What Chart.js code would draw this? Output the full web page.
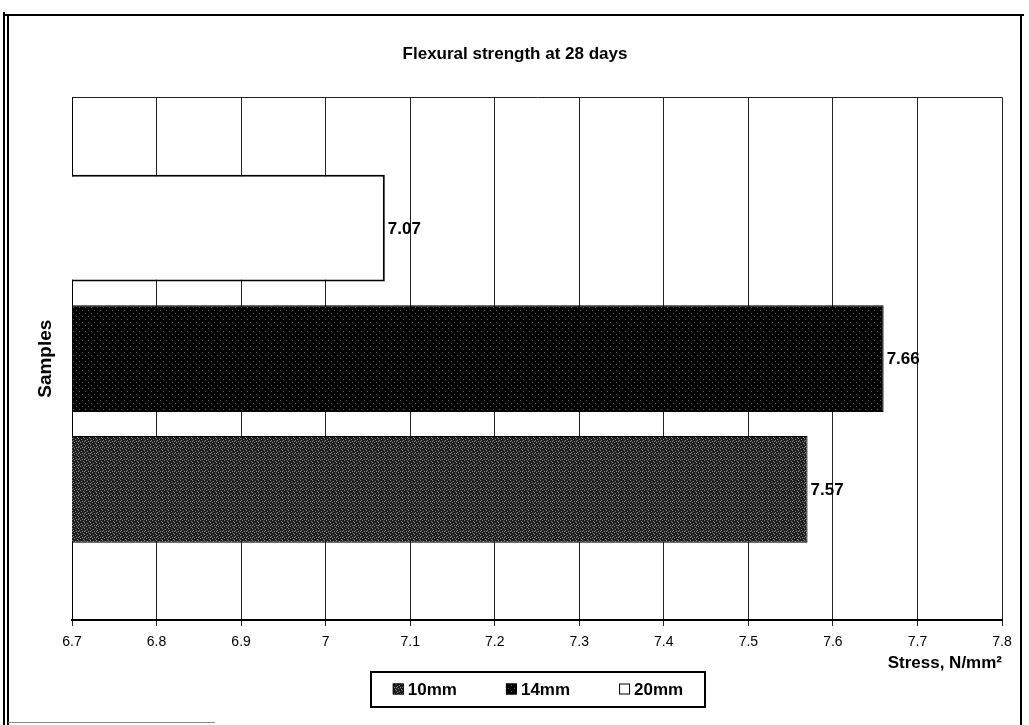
<!DOCTYPE html>
<html>
<head>
<meta charset="utf-8">
<script src="https://cdn.jsdelivr.net/npm/chart.js@4.4.1/dist/chart.umd.min.js"></script>
<style>
    body{margin:0;background:#fff;}
    canvas{display:block;}
</style>
</head>
<body>
<canvas id="flexChart" width="1029" height="725"></canvas>
<script>
    // data
    const categories=["Samples"];
    const seriesLabels=["20mm","14mm","10mm"];   // top to bottom in the plot
    const values20=[7.07];
    const values14=[7.66];
    const values10=[7.57];
    const xTickLabels=["6.7","6.8","6.9","7","7.1","7.2","7.3","7.4","7.5","7.6","7.7","7.8"];
    const legendOrder=["10mm","14mm","20mm"];

    const fontFamily="'Liberation Sans', Arial, sans-serif";

    // small dotted fills, like the scanned patterns
    function makePattern(bg,fg,dots){
        const c=document.createElement("canvas");
        c.width=6; c.height=6;
        const g=c.getContext("2d");
        g.fillStyle=bg;
        g.fillRect(0,0,6,6);
        g.fillStyle=fg;
        dots.forEach(function(d){ g.fillRect(d[0],d[1],1,1); });
        return g.createPattern(c,"repeat");
    }
    const ctx=document.getElementById("flexChart").getContext("2d");
    const fill10=makePattern("#1e1e1e","#8c8c8c",[[0,0],[3,1],[1,2],[4,3],[2,4],[5,5],[0,3]]);
    const fill14=makePattern("#030303","#5a5a5a",[[1,1],[4,4]]);
    const fill20="#ffffff";

    const frame={
        id:"frame",
        afterDraw(chart){
            const c=chart.ctx;
            c.save();
            c.strokeStyle="#000";
            c.lineWidth=2;
            c.beginPath();
            c.moveTo(4,12); c.lineTo(4,725);
            c.moveTo(8,15); c.lineTo(8,725);
            c.moveTo(4,15); c.lineTo(1024,15);
            c.moveTo(1021,15); c.lineTo(1021,725);
            c.stroke();
            c.lineWidth=1;
            c.strokeStyle="#888";
            c.beginPath();
            c.moveTo(8,722.5); c.lineTo(215,722.5);
            c.stroke();
            c.restore();
        }
    };

    const valueLabels={
        id:"valueLabels",
        afterDatasetsDraw(chart){
            const c=chart.ctx;
            c.save();
            c.font="bold 17px "+fontFamily;
            c.fillStyle="#000";
            c.textBaseline="middle";
            chart.data.datasets.forEach(function(ds,i){
                chart.getDatasetMeta(i).data.forEach(function(bar,j){
                    c.fillText(ds.data[j].toFixed(2),bar.x+3,bar.y+1);
                });
            });
            c.restore();
        }
    };

    const boxLegend={
        id:"boxLegend",
        afterDraw(chart){
            const c=chart.ctx;
            c.save();
            c.font="bold 17px "+fontFamily;
            const sw=11, gap=4, spacing=49;
            const items=legendOrder.map(function(lbl){
                const idx=chart.data.datasets.findIndex(function(d){ return d.label===lbl; });
                return {label:lbl,ds:chart.data.datasets[idx],w:sw+gap+c.measureText(lbl).width};
            });
            let total=0;
            items.forEach(function(it,k){ total+=it.w+(k?spacing:0); });
            const cx=538, cy=689;
            c.lineWidth=2;
            c.strokeStyle="#000";
            c.strokeRect(371,672,334,35);
            let x=cx-total/2;
            items.forEach(function(it){
                c.fillStyle=it.ds.backgroundColor;
                c.fillRect(x,cy-sw/2,sw,sw);
                c.lineWidth=1;
                c.strokeRect(x+0.5,cy-sw/2+0.5,sw-1,sw-1);
                c.fillStyle="#000";
                c.textBaseline="middle";
                c.fillText(it.label,x+sw+gap,cy+1);
                x+=it.w+spacing;
            });
            c.restore();
        }
    };

    const flexChart=new Chart(ctx,{
        type:"bar",
        data:{
            labels:categories,
            datasets:[
                {label:seriesLabels[0],data:values20,backgroundColor:fill20,borderColor:"#000",borderWidth:2},
                {label:seriesLabels[1],data:values14,backgroundColor:fill14,borderColor:"#000",borderWidth:1},
                {label:seriesLabels[2],data:values10,backgroundColor:fill10,borderColor:"#000",borderWidth:1},
            ],
        },
        options:{
            responsive:false,
            animation:false,
            indexAxis:"y",
            layout:{
                padding:{left:28,right:27,top:0,bottom:45},
            },
            datasets:{
                bar:{categoryPercentage:0.75,barPercentage:0.817},
            },
            plugins:{
                legend:{display:false},
                tooltip:{enabled:false},
                title:{
                    display:true,
                    text:"Flexural strength at 28 days",
                    color:"#000",
                    font:{family:fontFamily,size:17,weight:"bold"},
                    padding:{top:44,bottom:33},
                },
            },
            scales:{
                x:{
                    min:6.7,
                    max:7.8,
                    afterFit:function(scale){ scale.height=60; },
                    ticks:{
                        stepSize:0.1,
                        color:"#000",
                        padding:8,
                        font:{family:fontFamily,size:14},
                        callback:function(value,index){ return xTickLabels[index]; },
                    },
                    grid:{color:"#222",lineWidth:1,tickLength:6},
                    border:{color:"#000",width:2},
                    title:{
                        display:true,
                        text:"Stress, N/mm²",
                        align:"end",
                        color:"#000",
                        font:{family:fontFamily,size:17,weight:"bold"},
                        padding:{top:0,bottom:6},
                    },
                },
                y:{
                    afterFit:function(scale){ scale.width=44; },
                    ticks:{display:false},
                    grid:{color:"#222",lineWidth:1,drawTicks:false},
                    border:{color:"#000",width:1},
                    title:{
                        display:true,
                        text:"Samples",
                        color:"#000",
                        font:{family:fontFamily,size:19,weight:"bold"},
                        padding:{top:6,bottom:0},
                    },
                },
            },
        },
        plugins:[frame,valueLabels,boxLegend],
    });
</script>
</body>
</html>
